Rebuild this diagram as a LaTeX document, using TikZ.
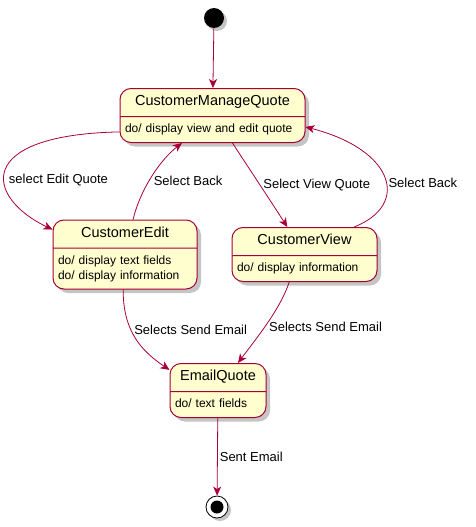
\documentclass[tikz,border=0pt]{standalone}
\usepackage{fontspec}
\setmainfont{Liberation Sans}
\usetikzlibrary{shapes.multipart, arrows.meta, shadows}

\definecolor{plumred}{HTML}{A80036}
\definecolor{plumfill}{HTML}{FEFECE}

\newcommand{\namefont}{\fontsize{14.5}{17}\selectfont}
\newcommand{\descfont}{\fontsize{12}{15}\selectfont}
\newcommand{\statename}[1]{\makebox[\linewidth]{\namefont\strut #1}}

\begin{document}
\begin{tikzpicture}[x=1pt, y=-1pt, thick]
        % Define block styles
        \tikzstyle{statebox} = [rectangle split, rectangle split parts=2, draw=plumred, fill=plumfill, line width=1pt, rounded corners=11pt, align=left, inner xsep=5pt, inner ysep=5pt, font=\descfont, drop shadow={shadow xshift=4pt, shadow yshift=-4pt, fill=black!45, opacity=.5}]
        \tikzstyle{startdot} = [circle, fill=black, minimum size=20pt, inner sep=0pt, drop shadow={shadow xshift=3pt, shadow yshift=-3pt, fill=black!45, opacity=.5}]
        \tikzstyle{enddot} = [circle, draw=black, fill=white, line width=0.8pt, minimum size=22pt, inner sep=0pt, path picture={\fill[black] (path picture bounding box.center) circle (6.5pt);}, drop shadow={shadow xshift=3pt, shadow yshift=-3pt, fill=black!45, opacity=.5}]
        \tikzstyle{line} = [draw=plumred, line width=0.8pt, -{Stealth[length=9pt, width=8pt, inset=2.5pt]}]
        \tikzstyle{lbl} = [font=\fontsize{13}{15}\selectfont, anchor=west, inner sep=1pt]

        \useasboundingbox (0,0) rectangle (475,527);

        % Define nodes
        \node [startdot] (start) at (214,18) {};
        \node [statebox, text width=175pt] (cmq) at (212.5,115.5) {\statename{CustomerManageQuote}\nodepart{second}\strut do/ display view and edit quote};
        \node [statebox, text width=134pt] (edit) at (125,254.5) {\statename{CustomerEdit}\nodepart{second}\strut do/ display text fields\\\strut do/ display information};
        \node [statebox, text width=135pt] (view) at (304.5,254.5) {\statename{CustomerView}\nodepart{second}\strut do/ display information};
        \node [statebox, text width=86pt] (email) at (218,390.5) {\statename{EmailQuote}\nodepart{second}\strut do/ text fields};
        \node [enddot] (final) at (217,507) {};

        % Connect nodes with paths
        \draw[line] (start) -- (cmq);
        \draw[line] (cmq.190) .. controls (-28,135) and (-14,198) .. node[lbl, pos=.58, xshift=3pt] {select Edit Quote} (edit.161);
        \draw[line] (edit.77) .. controls (140,190) and (160,160) .. node[lbl, pos=.45, xshift=3pt] {Select Back} (cmq.222);
        \draw[line] (cmq.306) .. controls (250,170) and (270,200) .. node[lbl, pos=.5, xshift=2pt] {Select View Quote} (view.122);
        \draw[line] (view.29) .. controls (410,205) and (395,150) .. node[lbl, pos=.45, xshift=1pt] {Select Back} (cmq.353);
        \draw[line] (edit.267) .. controls (123,330) and (140,350) .. node[lbl, pos=.4, xshift=2pt] {Selects Send Email} (email.157);
        \draw[line] (view.241) .. controls (280,310) and (255,340) .. node[lbl, pos=.53, xshift=3pt] {Selects Send Email} (email.54);
        \draw[line] (email) -- node[lbl, pos=.5, xshift=1pt] {Sent Email} (final);

    \end{tikzpicture}
\end{document}
